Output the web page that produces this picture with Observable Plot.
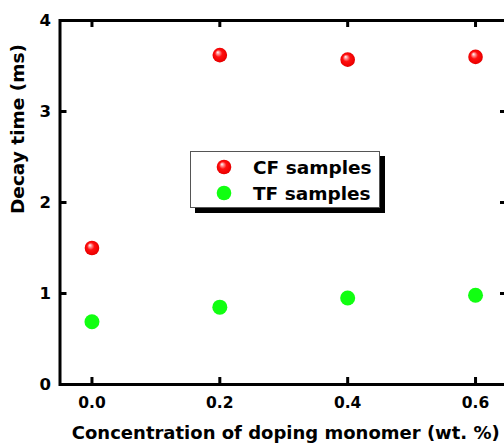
<!DOCTYPE html>
<html>
<head>
<meta charset="utf-8">
<script src="https://cdn.jsdelivr.net/npm/d3@7"></script>
<script src="https://cdn.jsdelivr.net/npm/@observablehq/plot@0.6"></script>
<style>
  html, body { margin: 0; padding: 0; background: #fff; overflow: hidden; }
  #wrap { position: relative; width: 504px; height: 448px; overflow: hidden; }
  #wrap > svg { max-width: none !important; width: 512px; height: 448px; display: block; }
  #legend {
    position: absolute; left: 190px; top: 151px; width: 188px; height: 55px;
    background: #fff; border: 1px solid #555; box-shadow: 5px 5px 0 #000;
    font-family: "DejaVu Sans", sans-serif; font-weight: bold; font-size: 18.5px; color: #000;
  }
  .row { position: absolute; left: 0; height: 26px; display: flex; align-items: center; }
  .row svg { margin-left: 25px; margin-right: 21px; }
</style>
</head>
<body>
<div id="wrap"></div>
<script>
const concentrations = [0.0, 0.2, 0.4, 0.6];
const cfValues = [1.50, 3.62, 3.57, 3.60];
const tfValues = [0.69, 0.85, 0.95, 0.98];
const seriesNames = ["CF samples", "TF samples"];
const xTicks = [0.0, 0.2, 0.4, 0.6];
const yTicks = [0, 1, 2, 3, 4];
const xTitle = "Concentration of doping monomer (wt. %)";
const yTitle = "Decay time (ms)";

const cfData = concentrations.map((c, i) => ({x: c, y: cfValues[i]}));
const tfData = concentrations.map((c, i) => ({x: c, y: tfValues[i]}));

const W = 512, H = 448, mL = 59.5, mR = 5, mT = 20, mB = 64;
const plotW = W - mL - mR, plotH = H - mT - mB, tk = 7;

const chart = Plot.plot({
  width: W, height: H,
  marginLeft: mL, marginRight: mR, marginTop: mT, marginBottom: mB,
  style: {fontFamily: "DejaVu Sans", fontWeight: "bold", fontSize: "15px", color: "#000", background: "#fff", overflow: "visible", maxWidth: "none"},
  x: {domain: [-0.05, 0.65]},
  y: {domain: [0, 4]},
  marks: [
    Plot.tickX(xTicks, {x: d => d, insetTop: plotH - tk, stroke: "#000", strokeWidth: 3}),
    Plot.tickX(xTicks, {x: d => d, insetBottom: plotH - tk, stroke: "#000", strokeWidth: 3}),
    Plot.tickY(yTicks, {y: d => d, insetRight: plotW - tk, stroke: "#000", strokeWidth: 3}),
    Plot.tickY(yTicks, {y: d => d, insetLeft: plotW - tk, stroke: "#000", strokeWidth: 3}),
    Plot.frame({stroke: "#000", strokeWidth: 3}),
    Plot.axisX({ticks: xTicks, tickSize: 0, tickPadding: 12, tickFormat: d3.format(".1f"), label: null, fontSize: 15.5}),
    Plot.axisY({ticks: yTicks, tickSize: 0, tickPadding: 9, tickFormat: d3.format("d"), label: null, fontSize: 16.5}),
    Plot.dot(tfData, {x: "x", y: "y", r: 7.5, fill: "#11ff11", stroke: null}),
    Plot.dot(cfData, {x: "x", y: "y", r: 7.3, fill: "url(#redball)", stroke: null}),
    Plot.text([xTitle], {frameAnchor: "bottom", dx: 2, dy: 54.5, text: d => d, fontSize: 18, fontWeight: "bold"}),
    Plot.text([yTitle], {frameAnchor: "left", rotate: -90, dx: -42, dy: 11.5, text: d => d, fontSize: 18.5, fontWeight: "bold"})
  ]
});

const defs = document.createElementNS("http://www.w3.org/2000/svg", "defs");
defs.innerHTML = `<radialGradient id="redball" cx="0.5" cy="0.5" r="0.55" fx="0.35" fy="0.3">
  <stop offset="0" stop-color="#ffffff"/>
  <stop offset="0.18" stop-color="#ff9a9a"/>
  <stop offset="0.45" stop-color="#ff1010"/>
  <stop offset="0.85" stop-color="#ee0000"/>
  <stop offset="1" stop-color="#c80000"/>
</radialGradient>`;
chart.insertBefore(defs, chart.firstChild);

const wrap = document.getElementById("wrap");
wrap.appendChild(chart);

const legend = document.createElement("div");
legend.id = "legend";
const legendFills = ["url(#redball)", "#11ff11"];
seriesNames.forEach((name, i) => {
  const row = document.createElement("div");
  row.className = "row";
  row.style.top = (2 + i * 26) + "px";
  row.innerHTML = `<svg width="16" height="16" viewBox="-8 -8 16 16"><circle r="7.3" fill="${legendFills[i]}"/></svg><span>${name}</span>`;
  legend.appendChild(row);
});
wrap.appendChild(legend);
</script>
</body>
</html>
